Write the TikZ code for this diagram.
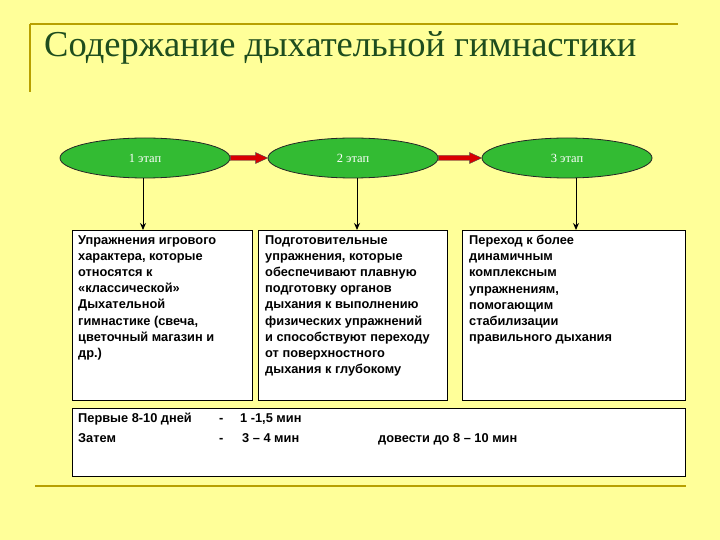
\documentclass[tikz,border=0pt]{standalone}
\usepackage{fontspec}
\setmainfont{Liberation Serif}
\newfontfamily\arialb{Liberation Sans}
\usetikzlibrary{shapes.geometric,arrows.meta}
\definecolor{bg}{HTML}{FFFF99}
\definecolor{gold}{HTML}{B8A000}
\definecolor{titlec}{HTML}{1E4D1E}
\definecolor{eg}{HTML}{33BB33}
\tikzset{
 stage/.style={ellipse,draw=black!85,line width=0.8pt,fill=eg,minimum width=170pt,minimum height=40pt,text=white,font=\fontsize{12.5}{14}\selectfont},
 infobox/.style={draw=black,fill=white,line width=0.8pt,anchor=north west,inner sep=0pt},
 txt/.style={anchor=north west,align=left,font=\arialb\bfseries\fontsize{12.8}{16.2}\selectfont,inner sep=0pt},
 rowtxt/.style={anchor=base west,font=\arialb\bfseries\fontsize{12.8}{16}\selectfont,inner sep=0pt},
 redarr/.style={draw=black!70,fill=red!85!black,line width=0.4pt},
 downarr/.style={-{Stealth[length=7pt,width=6pt]},line width=1pt}
}
\begin{document}
\begin{tikzpicture}[x=1pt,y=-1pt]
\fill[bg] (0,0) rectangle (720,540);
\useasboundingbox (0,0) rectangle (720,540);
\draw[gold,line width=1.5pt] (30,24) -- (678,24);
\draw[gold,line width=1.5pt] (30,24) -- (30,92);
\draw[gold,line width=1.5pt] (35,486) -- (686,486);
\node[anchor=west,text=titlec,font=\fontsize{36.5}{40}\selectfont,inner sep=0pt] (title) at (44,48) {Содержание дыхательной гимнастики};
\node[stage] (s1) at (145,158) {1 этап};
\node[stage] (s2) at (353,158) {2 этап};
\node[stage] (s3) at (567,158) {3 этап};
\foreach \a/\b in {s1/s2,s2/s3}{
 \path (\a.east) coordinate (p) (\b.west) coordinate (q);
 \fill[redarr] ([yshift=-2.5pt]p) -- ([xshift=-12pt,yshift=-2.5pt]q) -- ([xshift=-12pt,yshift=-5.5pt]q) -- (q) -- ([xshift=-12pt,yshift=5.5pt]q) -- ([xshift=-12pt,yshift=2.5pt]q) -- ([yshift=2.5pt]p) -- cycle;
}
\draw[infobox] (72,230) rectangle (252,400);
\draw[infobox] (258,230) rectangle (447,400);
\draw[infobox] (462,230) rectangle (685,400);
\draw[infobox] (72,408) rectangle (685,476);
\coordinate (b1) at (143,230);
\coordinate (b2) at (357,230);
\coordinate (b3) at (576,230);
\draw[downarr] (s1.south -| b1) -- (b1);
\draw[downarr] (s2.south -| b2) -- (b2);
\draw[downarr] (s3.south -| b3) -- (b3);
\node[txt] (t1) at (78,235) {Упражнения игрового\\характера, которые\\относятся к\\«классической»\\Дыхательной\\гимнастике (свеча,\\цветочный магазин и\\др.)};
\node[txt] (t2) at (265,235) {Подготовительные\\упражнения, которые\\обеспечивают плавную\\подготовку органов\\дыхания к выполнению\\физических упражнений\\и способствуют переходу\\от поверхностного\\дыхания к глубокому};
\node[txt] (t3) at (469,235) {Переход к более\\динамичным\\комплексным\\упражнениям,\\помогающим\\стабилизации\\правильного дыхания};
\node[rowtxt] (r1a) at (78,422) {Первые 8-10 дней};
\node[rowtxt] (r1b) at (219,422) {-};
\node[rowtxt] (r1c) at (240,422) {1 -1,5 мин};
\node[rowtxt] (r2a) at (78,442) {Затем};
\node[rowtxt] (r2b) at (219,442) {-};
\node[rowtxt] (r2c) at (242,442) {3 – 4 мин};
\node[rowtxt] (r2d) at (378,442) {довести до 8 – 10 мин};
\end{tikzpicture}
\end{document}
